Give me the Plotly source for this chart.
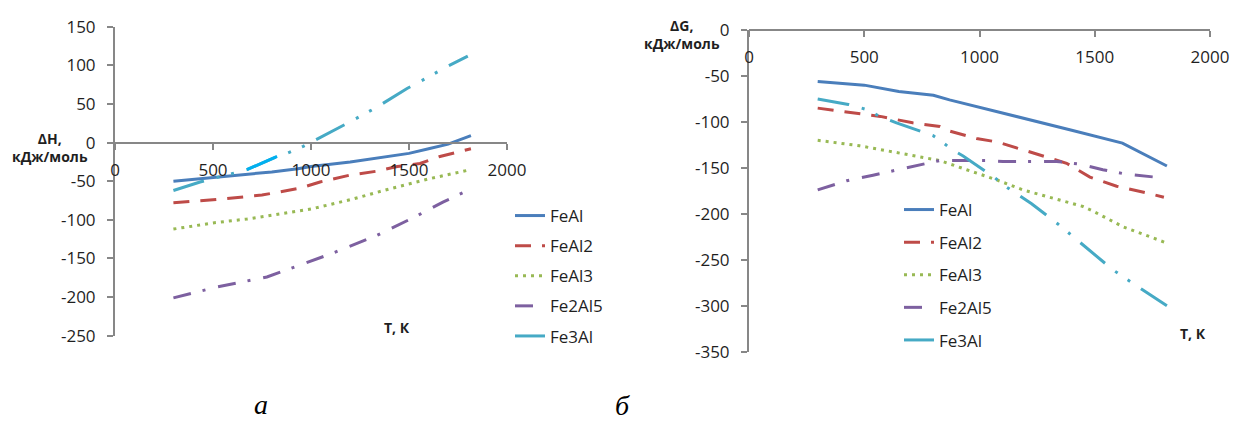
import plotly.graph_objects as go

# ---------------- Enthalpy of formation, ΔH (kJ/mol) ----------------
t_feal_h = [298, 500, 700, 800, 933, 1000, 1200, 1400, 1500, 1600, 1700, 1816]
dh_feal = [-50, -45, -41, -38, -34, -31, -25, -18, -14, -8, -2, 9]

t_feal2_h = [298, 500, 750, 944, 1046, 1200, 1337, 1440, 1556, 1658, 1816]
dh_feal2 = [-78, -74, -68, -59, -51, -42, -37, -31, -27, -18, -8]

t_feal3_h = [298, 500, 673, 900, 1000, 1200, 1400, 1600, 1816]
dh_feal3 = [-112, -104, -99, -90, -86, -74, -60, -47, -35]

t_fe2al5_h = [298, 520, 775, 944, 1030, 1112, 1337, 1540, 1673, 1800]
dh_fe2al5 = [-201, -187, -174, -158, -150, -143, -120, -95, -77, -62]

t_fe3al_h = [298, 434, 600, 673, 827, 878, 960, 1036, 1112, 1200, 1337, 1490, 1607, 1684, 1800]
dh_fe3al = [-62, -51, -40, -35, -18, -14, -5, 5, 15, 27, 46, 70, 86, 97, 112]

# ---------------- Gibbs energy of formation, ΔG (kJ/mol) ----------------
t_feal_g = [298, 500, 650, 800, 870, 1000, 1100, 1200, 1400, 1620, 1813]
dg_feal = [-56, -60, -67, -71, -76, -84, -90, -96, -109, -123, -148]

t_feal2_g = [298, 480, 570, 710, 828, 872, 987, 1080, 1233, 1335, 1378, 1479, 1595, 1738, 1800]
dg_feal2 = [-85, -91, -94, -101, -105, -110, -118, -122, -134, -142, -145, -160, -170, -178, -182]

t_feal3_g = [298, 480, 655, 828, 944, 1074, 1189, 1449, 1492, 1622, 1804]
dg_feal3 = [-120, -126, -134, -142, -152, -163, -174, -192, -197, -214, -231]

t_fe2al5_g = [298, 424, 538, 727, 828, 944, 1031, 1102, 1233, 1335, 1436, 1535, 1639, 1774, 1800]
dg_fe2al5 = [-174, -164, -158, -148, -142, -142, -142, -143, -143, -143, -146, -152, -157, -160, -161]

t_fe3al_g = [298, 431, 503, 568, 640, 799, 828, 886, 929, 995, 1057, 1118, 1226, 1340, 1436, 1579, 1704, 1813]
dg_fe3al = [-75, -81, -86, -94, -101, -115, -120, -131, -137, -148, -159, -171, -189, -211, -231, -261, -282, -300]

# ---------------- axes ----------------
x_ticks = [0, 500, 1000, 1500, 2000]
y_ticks_h = [150, 100, 50, 0, -50, -100, -150, -200, -250]
y_ticks_g = [0, -50, -100, -150, -200, -250, -300, -350]

names = ["FeAl", "FeAl2", "FeAl3", "Fe2Al5", "Fe3Al"]
colors = ["#4A7EBB", "#BE4B48", "#98B954", "#7D60A0", "#46AAC5"]
dashes = ["solid", "16px,11px", "3px,5px", "18px,12px,3px,13px", "32px,13px,3px,12px,3px,13px"]

W, H = 1233, 421
AXIS = "#878787"
TXT = "#1f1f1f"
FONT = "Open Sans"

# plot areas in pixels (left, right, top, bottom)
left_box = (115, 507, 26.7, 335.7)
right_box = (749, 1210, 30, 351.7)


def xdom(b):
    return [b[0] / W, b[1] / W]


def ydom(b):
    return [1 - b[3] / H, 1 - b[2] / H]


def zero_pos(dom, lo, hi):
    return dom[0] + (0 - lo) / (hi - lo) * (dom[1] - dom[0])


fig = go.Figure()

series_h = [(t_feal_h, dh_feal), (t_feal2_h, dh_feal2), (t_feal3_h, dh_feal3),
            (t_fe2al5_h, dh_fe2al5), (t_fe3al_h, dh_fe3al)]
series_g = [(t_feal_g, dg_feal), (t_feal2_g, dg_feal2), (t_feal3_g, dg_feal3),
            (t_fe2al5_g, dg_fe2al5), (t_fe3al_g, dg_fe3al)]

for i, (t, v) in enumerate(series_h):
    fig.add_trace(go.Scatter(
        x=t, y=v, mode="lines", name=names[i], legendgroup="h" + names[i],
        line=dict(color=colors[i], width=3, dash=dashes[i]),
        xaxis="x", yaxis="y", legend="legend"))

# brighter stretch of the Fe3Al enthalpy curve
fig.add_trace(go.Scatter(
    x=t_fe3al_h[3:5], y=dh_fe3al[3:5], mode="lines", showlegend=False,
    line=dict(color="#00B0F0", width=3), xaxis="x", yaxis="y", hoverinfo="skip"))

for i, (t, v) in enumerate(series_g):
    fig.add_trace(go.Scatter(
        x=t, y=v, mode="lines", name=names[i], legendgroup="g" + names[i],
        line=dict(color=colors[i], width=3, dash=dashes[i]),
        xaxis="x2", yaxis="y2", legend="legend2"))

yd1 = ydom(left_box)
yd2 = ydom(right_box)

common_x = dict(range=[0, 2000], tickvals=x_ticks, ticktext=[str(v) for v in x_ticks],
                showline=True, linecolor=AXIS, linewidth=2, ticks="outside", ticklen=6,
                tickcolor=AXIS, tickwidth=2, showgrid=False, zeroline=False,
                tickfont=dict(family=FONT, size=17, color=TXT), ticklabelstandoff=6,
                anchor="free", automargin=False)
common_y = dict(showline=True, linecolor=AXIS, linewidth=2, ticks="outside", ticklen=6,
                tickcolor=AXIS, tickwidth=2, showgrid=False, zeroline=False,
                tickfont=dict(family=FONT, size=17, color=TXT), ticklabelstandoff=8,
                automargin=False)

fig.update_layout(
    template="none",
    width=W, height=H,
    margin=dict(l=0, r=0, t=0, b=0, autoexpand=False),
    paper_bgcolor="white", plot_bgcolor="rgba(0,0,0,0)",
    xaxis=dict(domain=xdom(left_box), position=zero_pos(yd1, -250, 150), **common_x),
    yaxis=dict(domain=yd1, range=[-250, 150], anchor="x", tickvals=y_ticks_h,
               ticktext=[str(v) for v in y_ticks_h], **common_y),
    xaxis2=dict(domain=xdom(right_box), position=zero_pos(yd2, -350, 0), **common_x),
    yaxis2=dict(domain=yd2, range=[-350, 0], anchor="x2", tickvals=y_ticks_g,
                ticktext=[str(v) for v in y_ticks_g], **common_y),
    legend=dict(x=510 / W, y=1 - 198 / H, xanchor="left", yanchor="top",
                font=dict(family=FONT, size=17, color=TXT), bgcolor="rgba(0,0,0,0)",
                tracegroupgap=5, traceorder="grouped"),
    legend2=dict(x=899 / W, y=1 - 192 / H, xanchor="left", yanchor="top",
                 font=dict(family=FONT, size=17, color=TXT), bgcolor="rgba(0,0,0,0)",
                 tracegroupgap=7.5, traceorder="grouped"),
    showlegend=True,
)

bold = dict(family=FONT, size=14, color=TXT)
ann = [
    dict(text="<b>ΔH,<br>кДж/моль</b>", x=50 / W, y=1 - 147 / H),
    dict(text="<b>ΔG,<br>кДж/моль</b>", x=682 / W, y=1 - 34 / H),
    dict(text="<b>Т, К</b>", x=397 / W, y=1 - 327 / H),
    dict(text="<b>Т, К</b>", x=1193 / W, y=1 - 333 / H),
]
for a in ann:
    fig.add_annotation(xref="paper", yref="paper", showarrow=False, xanchor="center",
                       yanchor="middle", font=bold, align="center", **a)

serif = dict(family="Liberation Serif", size=28, color="black")
fig.add_annotation(text="<i>а</i>", x=252 / W, y=1 - 404 / H, xref="paper", yref="paper",
                   showarrow=False, font=serif, yanchor="middle")
fig.add_annotation(text="<i>б</i>", x=622 / W, y=1 - 405 / H, xref="paper", yref="paper",
                   showarrow=False, font=serif, yanchor="middle")

fig.write_html("out.html")
